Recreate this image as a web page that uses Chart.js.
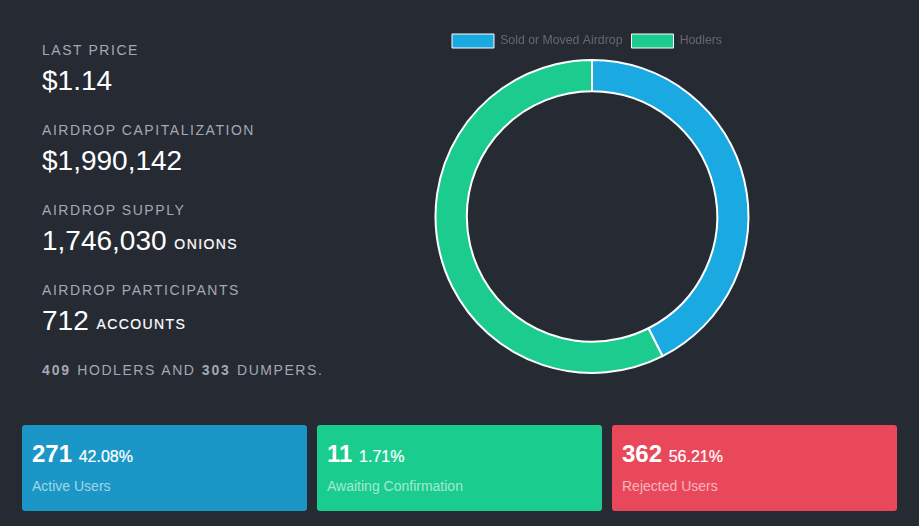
<!DOCTYPE html>
<html>
<head>
<meta charset="utf-8">
<script src="https://cdn.jsdelivr.net/npm/chart.js@4/dist/chart.umd.min.js"></script>
<style>
  html, body { margin: 0; padding: 0; background: #262a33; }
  body { position: relative; width: 919px; height: 526px; overflow: hidden; font-family: "Liberation Sans", Arial, sans-serif; }
  #airdropChart { position: absolute; left: 402px; top: 25px; }
  .stat { position: absolute; left: 42px; white-space: nowrap; }
  .stat-label { color: #a5a8b2; font-size: 14px; line-height: 16px; letter-spacing: 1.55px; }
  .stat-value { color: #fff; font-size: 28px; line-height: 32px; margin-top: 7px; }
  .stat-value small { font-size: 14px; letter-spacing: 1.4px; -webkit-text-stroke: 0.2px #fff; position: relative; top: -1px; }
  #summary { position: absolute; left: 42px; top: 362px; color: #a5a8b2; font-size: 14px; line-height: 16px; letter-spacing: 1.55px; word-spacing: 0.8px; white-space: nowrap; }
  #summary b { letter-spacing: 1.9px; }
  .card { position: absolute; top: 425px; width: 285px; height: 86px; border-radius: 3px; color: #fff; }
  .card-count { position: absolute; left: 10px; top: 15px; font-size: 24px; line-height: 28px; font-weight: bold; white-space: nowrap; }
  .card-count span { font-size: 16px; font-weight: normal; -webkit-text-stroke: 0.2px #fff; }
  .card-label { position: absolute; left: 10px; top: 53px; font-size: 14px; line-height: 16px; color: rgba(255,255,255,0.6); white-space: nowrap; }
</style>
</head>
<body>
<div id="stats"></div>
<div id="summary"></div>
<canvas id="airdropChart" width="380" height="350"></canvas>
<div id="cards"></div>

<script>
const chartLabels = ['Sold or Moved Airdrop', 'Hodlers'];
const chartValues = [303, 409];
const chartColors = ['#1ba9e1', '#1ccb8e'];

const statLabels = ['LAST PRICE', 'AIRDROP CAPITALIZATION', 'AIRDROP SUPPLY', 'AIRDROP PARTICIPANTS'];
const statValues = ['$1.14', '$1,990,142', '1,746,030', '712'];
const statUnits = ['', '', 'ONIONS', 'ACCOUNTS'];
const statTops = [42, 122, 202, 282];

const cardLabels = ['Active Users', 'Awaiting Confirmation', 'Rejected Users'];
const cardCounts = ['271', '11', '362'];
const cardPercents = ['42.08%', '1.71%', '56.21%'];
const cardColors = ['#1a97c6', '#1bcc8f', '#e9485b'];
const cardLefts = [22, 317, 612];

// left column
const statsEl = document.getElementById('stats');
statLabels.forEach((label, i) => {
  const unit = statUnits[i] ? ` <small>${statUnits[i]}</small>` : '';
  statsEl.innerHTML += `<div class="stat" style="top:${statTops[i]}px">
    <div class="stat-label">${label}</div>
    <div class="stat-value">${statValues[i]}${unit}</div>
  </div>`;
});
document.getElementById('summary').innerHTML =
  `<b>${chartValues[1]}</b> HODLERS AND <b>${chartValues[0]}</b> DUMPERS.`;

// bottom cards
const cardsEl = document.getElementById('cards');
cardLabels.forEach((label, i) => {
  cardsEl.innerHTML += `<div class="card" style="left:${cardLefts[i]}px;background:${cardColors[i]}">
    <div class="card-count">${cardCounts[i]} <span>${cardPercents[i]}</span></div>
    <div class="card-label">${label}</div>
  </div>`;
});

// legend sits a little left of the ring in the original
const legendShift = {
  id: 'legendShift',
  beforeDraw(chart) {
    if (chart.$shifted) return;
    chart.legend.left -= 5;
    chart.legend.right -= 5;
    chart.$shifted = true;
  }
};

const baseLegendLabels = Chart.overrides.doughnut.plugins.legend.labels.generateLabels;

new Chart(document.getElementById('airdropChart'), {
  type: 'doughnut',
  data: {
    labels: chartLabels,
    datasets: [{
      data: chartValues,
      backgroundColor: chartColors,
      borderColor: '#ffffff',
      borderWidth: 2
    }]
  },
  options: {
    responsive: false,
    animation: false,
    radius: 156.5,
    cutout: '80%',
    plugins: {
      legend: {
        position: 'top',
        labels: {
          boxWidth: 42,
          boxHeight: 14,
          padding: 9,
          color: '#686868',
          font: { family: '"Liberation Sans", Arial, sans-serif', size: 12.3 },
          generateLabels(chart) {
            return baseLegendLabels(chart).map(item => {
              item.lineWidth = 1;
              return item;
            });
          }
        }
      },
      tooltip: { enabled: false }
    }
  },
  plugins: [legendShift]
});
</script>
</body>
</html>
